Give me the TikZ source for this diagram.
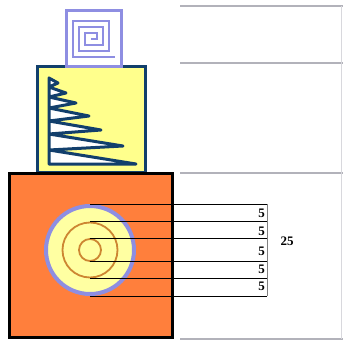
\documentclass[tikz,border=0pt]{standalone}
\usepackage{fontspec}
\setmainfont{Liberation Serif}
\usepackage{xcolor}
\usepackage{tikz}
\usetikzlibrary{positioning}
\definecolor{lav}{HTML}{8E8EE2}
\definecolor{navy}{HTML}{123F6C}
\definecolor{lemon}{HTML}{FFFF8C}
\definecolor{pale}{HTML}{FFFFA2}
\definecolor{tang}{HTML}{FF7F3C}
\definecolor{rust}{HTML}{CD8632}
\definecolor{rulegray}{HTML}{B2B2BA}

\begin{document}
\begin{tikzpicture}[x=1pt,y=-1pt,
  num/.style={font=\bfseries\fontsize{13}{14}\selectfont,inner sep=0pt,anchor=east},
  ring/.style={circle,draw=rust,line width=1.8pt,inner sep=0pt},
  tick/.style={black,line width=0.9pt}]
  \useasboundingbox (0,0) rectangle (343,343);
  % page rules on the right
  \foreach \y in {6,63,173,339} \draw[rulegray,line width=1.2pt] (180,\y)--(343,\y);
  \draw[rulegray!50,line width=0.6pt] (341,6)--(341,339);
  % middle box with the tree
  \filldraw[fill=lemon,draw=navy,line width=3pt] (37.5,66.5) rectangle (145.5,172.5);
  \filldraw[fill=white,draw=navy,line width=3pt,line join=round]
    (49,78)--(58,83)--(49,87)--(66,93)--(49,97)--(76,103)--(49,108)--(89,116)
    --(49,121)--(101,130)--(49,134)--(123,146)--(49,150)--(136,164)--(49,164)--cycle;
  % top box with the spiral
  \filldraw[fill=white,draw=lav,line width=3pt] (66.5,10.5) rectangle (121.5,66.5);
  \draw[lav,line width=1.8pt] (91,39) -- ++(6,0) -- ++(0,-6) -- ++(-12,0) -- ++(0,12)
    -- ++(18,0) -- ++(0,-18) -- ++(-24,0) -- ++(0,24) -- ++(30,0) -- ++(0,-30)
    -- ++(-36,0) -- ++(0,36) -- ++(42,0);
  % bottom box with the disc
  \filldraw[fill=tang,draw=black,line width=3pt] (9.5,173.5) rectangle (172,337);
  \node[circle,fill=pale,draw=lav,line width=4pt,minimum size=88pt,inner sep=0pt] (disc) at (90,250) {};
  \node[ring,minimum size=55pt] (mid) at (90,250) {};
  \node[ring,minimum size=22pt] (core) at (90,250) {};
  % scale
  \coordinate (bartop) at (267,204);
  \coordinate (barbot) at (267,296);
  \draw[gray,line width=0.8pt] (bartop)--(barbot);
  \foreach \a in {disc.north,mid.north,core.north,core.south,mid.south,disc.south}
    \draw[tick] (\a)--(\a -| bartop);
  \node[num] (n1) at (265,213) {5};
  \node[num] (n2) at (265,231) {5};
  \node[num] (n3) at (265,251) {5};
  \node[num] (n4) at (265,269) {5};
  \node[num] (n5) at (265,286) {5};
  \node[num,anchor=center] (sum) at (287,241) {25};
\end{tikzpicture}
\end{document}
